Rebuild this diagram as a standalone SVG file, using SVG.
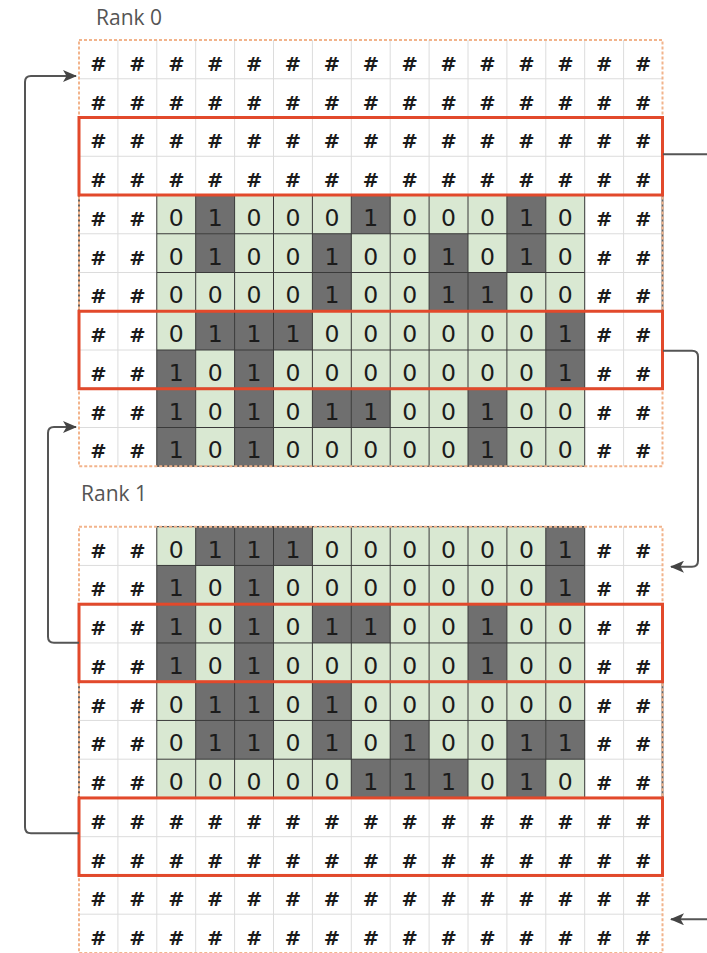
<svg xmlns="http://www.w3.org/2000/svg" xmlns:xlink="http://www.w3.org/1999/xlink" width="707" height="953" viewBox="0 0 707 953">
<style>
text{text-anchor:middle;fill:#1b1b1b}
.hr text{font-family:'DejaVu Sans',sans-serif;font-weight:bold;font-size:19.5px}
.hr text.n{font-family:'DejaVu Sans',sans-serif;font-weight:normal;font-size:23.5px}
.lbl{text-anchor:start;font-family:'Open Sans',sans-serif;font-size:21px;fill:#555}
.bg{fill:#fff}
.g{fill:#d9e8d2}
.d{fill:#6f6f6f}
.lgr{fill:none;stroke:#dcdcdc;stroke-width:1}
.dgr{fill:none;stroke:#3a3a3a;stroke-width:1}
.own{fill:none;stroke:#666;stroke-width:2}
.halo{fill:none;stroke:#f2b48c;stroke-width:2;stroke-dasharray:3 2}
.red{fill:none;stroke:#e2492b;stroke-width:3}
.conn path{fill:none;stroke:#555;stroke-width:2;marker-end:url(#arr)}
</style>
<defs>
<marker id="arr" viewBox="0 0 14 12" refX="13" refY="6" markerWidth="14" markerHeight="12" markerUnits="userSpaceOnUse" orient="auto">
<path d="M0,0 L14,6 L0,12 L3.5,6 Z" fill="#444"/>
</marker>
<path id="lg" class="lgr" d="M38.9 0V426.25M77.8 0V426.25M116.7 0V426.25M155.6 0V426.25M194.5 0V426.25M233.4 0V426.25M272.3 0V426.25M311.2 0V426.25M350.1 0V426.25M389 0V426.25M427.9 0V426.25M466.8 0V426.25M505.7 0V426.25M544.6 0V426.25M0 38.75H583.5M0 77.5H583.5M0 116.25H583.5M0 155H583.5M0 193.75H583.5M0 232.5H583.5M0 271.25H583.5M0 310H583.5M0 348.75H583.5M0 387.5H583.5"/>
<path id="dg" class="dgr" d="M0 0V271.25M38.9 0V271.25M77.8 0V271.25M116.7 0V271.25M155.6 0V271.25M194.5 0V271.25M233.4 0V271.25M272.3 0V271.25M311.2 0V271.25M350.1 0V271.25M389 0V271.25M427.9 0V271.25M0 0H427.9M0 38.75H427.9M0 77.5H427.9M0 116.25H427.9M0 155H427.9M0 193.75H427.9M0 232.5H427.9M0 271.25H427.9"/>
<rect id="dc" class="d" width="38.9" height="38.75"/>
</defs>

<g id="label-rank0"><text class="lbl" x="96" y="25">Rank 0</text></g>
<g id="label-rank1"><text class="lbl" x="81" y="501">Rank 1</text></g>

<g id="rank0" transform="translate(79,40)">
<rect class="bg" width="583.5" height="426.25"/>
<use href="#lg"/>
<rect class="g" x="77.8" y="155" width="427.9" height="271.25"/>
<use href="#dc" x="116.7" y="155"/><use href="#dc" x="272.3" y="155"/><use href="#dc" x="427.9" y="155"/>
<use href="#dc" x="116.7" y="193.75"/><use href="#dc" x="233.4" y="193.75"/><use href="#dc" x="350.1" y="193.75"/><use href="#dc" x="427.9" y="193.75"/>
<use href="#dc" x="233.4" y="232.5"/><use href="#dc" x="350.1" y="232.5"/><use href="#dc" x="389" y="232.5"/>
<use href="#dc" x="116.7" y="271.25"/><use href="#dc" x="155.6" y="271.25"/><use href="#dc" x="194.5" y="271.25"/><use href="#dc" x="466.8" y="271.25"/>
<use href="#dc" x="77.8" y="310"/><use href="#dc" x="155.6" y="310"/><use href="#dc" x="466.8" y="310"/>
<use href="#dc" x="77.8" y="348.75"/><use href="#dc" x="155.6" y="348.75"/><use href="#dc" x="233.4" y="348.75"/><use href="#dc" x="272.3" y="348.75"/><use href="#dc" x="389" y="348.75"/>
<use href="#dc" x="77.8" y="387.5"/><use href="#dc" x="155.6" y="387.5"/><use href="#dc" x="389" y="387.5"/>
<use href="#dg" x="77.8" y="155"/>
<g transform="translate(0,1.5)">
<g class="hr" transform="translate(0,29.4)"><text x="19.5">#</text><text x="58.4">#</text><text x="97.3">#</text><text x="136.2">#</text><text x="175.1">#</text><text x="214">#</text><text x="252.9">#</text><text x="291.8">#</text><text x="330.7">#</text><text x="369.6">#</text><text x="408.5">#</text><text x="447.4">#</text><text x="486.3">#</text><text x="525.2">#</text><text x="564.1">#</text></g>
<g class="hr" transform="translate(0,68.1)"><text x="19.5">#</text><text x="58.4">#</text><text x="97.3">#</text><text x="136.2">#</text><text x="175.1">#</text><text x="214">#</text><text x="252.9">#</text><text x="291.8">#</text><text x="330.7">#</text><text x="369.6">#</text><text x="408.5">#</text><text x="447.4">#</text><text x="486.3">#</text><text x="525.2">#</text><text x="564.1">#</text></g>
<g class="hr" transform="translate(0,106.9)"><text x="19.5">#</text><text x="58.4">#</text><text x="97.3">#</text><text x="136.2">#</text><text x="175.1">#</text><text x="214">#</text><text x="252.9">#</text><text x="291.8">#</text><text x="330.7">#</text><text x="369.6">#</text><text x="408.5">#</text><text x="447.4">#</text><text x="486.3">#</text><text x="525.2">#</text><text x="564.1">#</text></g>
<g class="hr" transform="translate(0,145.6)"><text x="19.5">#</text><text x="58.4">#</text><text x="97.3">#</text><text x="136.2">#</text><text x="175.1">#</text><text x="214">#</text><text x="252.9">#</text><text x="291.8">#</text><text x="330.7">#</text><text x="369.6">#</text><text x="408.5">#</text><text x="447.4">#</text><text x="486.3">#</text><text x="525.2">#</text><text x="564.1">#</text></g>
<g class="hr" transform="translate(0,184.4)"><text x="19.5">#</text><text x="58.4">#</text><text class="n" x="97.3">0</text><text class="n" x="136.2">1</text><text class="n" x="175.1">0</text><text class="n" x="214">0</text><text class="n" x="252.9">0</text><text class="n" x="291.8">1</text><text class="n" x="330.7">0</text><text class="n" x="369.6">0</text><text class="n" x="408.5">0</text><text class="n" x="447.4">1</text><text class="n" x="486.3">0</text><text x="525.2">#</text><text x="564.1">#</text></g>
<g class="hr" transform="translate(0,223.1)"><text x="19.5">#</text><text x="58.4">#</text><text class="n" x="97.3">0</text><text class="n" x="136.2">1</text><text class="n" x="175.1">0</text><text class="n" x="214">0</text><text class="n" x="252.9">1</text><text class="n" x="291.8">0</text><text class="n" x="330.7">0</text><text class="n" x="369.6">1</text><text class="n" x="408.5">0</text><text class="n" x="447.4">1</text><text class="n" x="486.3">0</text><text x="525.2">#</text><text x="564.1">#</text></g>
<g class="hr" transform="translate(0,261.9)"><text x="19.5">#</text><text x="58.4">#</text><text class="n" x="97.3">0</text><text class="n" x="136.2">0</text><text class="n" x="175.1">0</text><text class="n" x="214">0</text><text class="n" x="252.9">1</text><text class="n" x="291.8">0</text><text class="n" x="330.7">0</text><text class="n" x="369.6">1</text><text class="n" x="408.5">1</text><text class="n" x="447.4">0</text><text class="n" x="486.3">0</text><text x="525.2">#</text><text x="564.1">#</text></g>
<g class="hr" transform="translate(0,300.6)"><text x="19.5">#</text><text x="58.4">#</text><text class="n" x="97.3">0</text><text class="n" x="136.2">1</text><text class="n" x="175.1">1</text><text class="n" x="214">1</text><text class="n" x="252.9">0</text><text class="n" x="291.8">0</text><text class="n" x="330.7">0</text><text class="n" x="369.6">0</text><text class="n" x="408.5">0</text><text class="n" x="447.4">0</text><text class="n" x="486.3">1</text><text x="525.2">#</text><text x="564.1">#</text></g>
<g class="hr" transform="translate(0,339.4)"><text x="19.5">#</text><text x="58.4">#</text><text class="n" x="97.3">1</text><text class="n" x="136.2">0</text><text class="n" x="175.1">1</text><text class="n" x="214">0</text><text class="n" x="252.9">0</text><text class="n" x="291.8">0</text><text class="n" x="330.7">0</text><text class="n" x="369.6">0</text><text class="n" x="408.5">0</text><text class="n" x="447.4">0</text><text class="n" x="486.3">1</text><text x="525.2">#</text><text x="564.1">#</text></g>
<g class="hr" transform="translate(0,378.1)"><text x="19.5">#</text><text x="58.4">#</text><text class="n" x="97.3">1</text><text class="n" x="136.2">0</text><text class="n" x="175.1">1</text><text class="n" x="214">0</text><text class="n" x="252.9">1</text><text class="n" x="291.8">1</text><text class="n" x="330.7">0</text><text class="n" x="369.6">0</text><text class="n" x="408.5">1</text><text class="n" x="447.4">0</text><text class="n" x="486.3">0</text><text x="525.2">#</text><text x="564.1">#</text></g>
<g class="hr" transform="translate(0,416.9)"><text x="19.5">#</text><text x="58.4">#</text><text class="n" x="97.3">1</text><text class="n" x="136.2">0</text><text class="n" x="175.1">1</text><text class="n" x="214">0</text><text class="n" x="252.9">0</text><text class="n" x="291.8">0</text><text class="n" x="330.7">0</text><text class="n" x="369.6">0</text><text class="n" x="408.5">1</text><text class="n" x="447.4">0</text><text class="n" x="486.3">0</text><text x="525.2">#</text><text x="564.1">#</text></g>
</g>
<rect class="own" y="77.5" width="583.5" height="271.25"/>
<rect class="halo" width="583.5" height="426.25"/>
<rect id="rank0-send-top" class="red" y="77.5" width="583.5" height="77.5"/>
<rect id="rank0-send-bottom" class="red" y="271.25" width="583.5" height="77.5"/>
</g>

<g id="rank1" transform="translate(79,526.7)">
<rect class="bg" width="583.5" height="426.25"/>
<use href="#lg"/>
<rect class="g" x="77.8" y="0" width="427.9" height="271.25"/>
<use href="#dc" x="116.7" y="0"/><use href="#dc" x="155.6" y="0"/><use href="#dc" x="194.5" y="0"/><use href="#dc" x="466.8" y="0"/>
<use href="#dc" x="77.8" y="38.75"/><use href="#dc" x="155.6" y="38.75"/><use href="#dc" x="466.8" y="38.75"/>
<use href="#dc" x="77.8" y="77.5"/><use href="#dc" x="155.6" y="77.5"/><use href="#dc" x="233.4" y="77.5"/><use href="#dc" x="272.3" y="77.5"/><use href="#dc" x="389" y="77.5"/>
<use href="#dc" x="77.8" y="116.25"/><use href="#dc" x="155.6" y="116.25"/><use href="#dc" x="389" y="116.25"/>
<use href="#dc" x="116.7" y="155"/><use href="#dc" x="155.6" y="155"/><use href="#dc" x="233.4" y="155"/>
<use href="#dc" x="116.7" y="193.75"/><use href="#dc" x="155.6" y="193.75"/><use href="#dc" x="233.4" y="193.75"/><use href="#dc" x="311.2" y="193.75"/><use href="#dc" x="427.9" y="193.75"/><use href="#dc" x="466.8" y="193.75"/>
<use href="#dc" x="272.3" y="232.5"/><use href="#dc" x="311.2" y="232.5"/><use href="#dc" x="350.1" y="232.5"/><use href="#dc" x="427.9" y="232.5"/>
<use href="#dg" x="77.8" y="0"/>
<g transform="translate(0,1.5)">
<g class="hr" transform="translate(0,29.4)"><text x="19.5">#</text><text x="58.4">#</text><text class="n" x="97.3">0</text><text class="n" x="136.2">1</text><text class="n" x="175.1">1</text><text class="n" x="214">1</text><text class="n" x="252.9">0</text><text class="n" x="291.8">0</text><text class="n" x="330.7">0</text><text class="n" x="369.6">0</text><text class="n" x="408.5">0</text><text class="n" x="447.4">0</text><text class="n" x="486.3">1</text><text x="525.2">#</text><text x="564.1">#</text></g>
<g class="hr" transform="translate(0,68.1)"><text x="19.5">#</text><text x="58.4">#</text><text class="n" x="97.3">1</text><text class="n" x="136.2">0</text><text class="n" x="175.1">1</text><text class="n" x="214">0</text><text class="n" x="252.9">0</text><text class="n" x="291.8">0</text><text class="n" x="330.7">0</text><text class="n" x="369.6">0</text><text class="n" x="408.5">0</text><text class="n" x="447.4">0</text><text class="n" x="486.3">1</text><text x="525.2">#</text><text x="564.1">#</text></g>
<g class="hr" transform="translate(0,106.9)"><text x="19.5">#</text><text x="58.4">#</text><text class="n" x="97.3">1</text><text class="n" x="136.2">0</text><text class="n" x="175.1">1</text><text class="n" x="214">0</text><text class="n" x="252.9">1</text><text class="n" x="291.8">1</text><text class="n" x="330.7">0</text><text class="n" x="369.6">0</text><text class="n" x="408.5">1</text><text class="n" x="447.4">0</text><text class="n" x="486.3">0</text><text x="525.2">#</text><text x="564.1">#</text></g>
<g class="hr" transform="translate(0,145.6)"><text x="19.5">#</text><text x="58.4">#</text><text class="n" x="97.3">1</text><text class="n" x="136.2">0</text><text class="n" x="175.1">1</text><text class="n" x="214">0</text><text class="n" x="252.9">0</text><text class="n" x="291.8">0</text><text class="n" x="330.7">0</text><text class="n" x="369.6">0</text><text class="n" x="408.5">1</text><text class="n" x="447.4">0</text><text class="n" x="486.3">0</text><text x="525.2">#</text><text x="564.1">#</text></g>
<g class="hr" transform="translate(0,184.4)"><text x="19.5">#</text><text x="58.4">#</text><text class="n" x="97.3">0</text><text class="n" x="136.2">1</text><text class="n" x="175.1">1</text><text class="n" x="214">0</text><text class="n" x="252.9">1</text><text class="n" x="291.8">0</text><text class="n" x="330.7">0</text><text class="n" x="369.6">0</text><text class="n" x="408.5">0</text><text class="n" x="447.4">0</text><text class="n" x="486.3">0</text><text x="525.2">#</text><text x="564.1">#</text></g>
<g class="hr" transform="translate(0,223.1)"><text x="19.5">#</text><text x="58.4">#</text><text class="n" x="97.3">0</text><text class="n" x="136.2">1</text><text class="n" x="175.1">1</text><text class="n" x="214">0</text><text class="n" x="252.9">1</text><text class="n" x="291.8">0</text><text class="n" x="330.7">1</text><text class="n" x="369.6">0</text><text class="n" x="408.5">0</text><text class="n" x="447.4">1</text><text class="n" x="486.3">1</text><text x="525.2">#</text><text x="564.1">#</text></g>
<g class="hr" transform="translate(0,261.9)"><text x="19.5">#</text><text x="58.4">#</text><text class="n" x="97.3">0</text><text class="n" x="136.2">0</text><text class="n" x="175.1">0</text><text class="n" x="214">0</text><text class="n" x="252.9">0</text><text class="n" x="291.8">1</text><text class="n" x="330.7">1</text><text class="n" x="369.6">1</text><text class="n" x="408.5">0</text><text class="n" x="447.4">1</text><text class="n" x="486.3">0</text><text x="525.2">#</text><text x="564.1">#</text></g>
<g class="hr" transform="translate(0,300.6)"><text x="19.5">#</text><text x="58.4">#</text><text x="97.3">#</text><text x="136.2">#</text><text x="175.1">#</text><text x="214">#</text><text x="252.9">#</text><text x="291.8">#</text><text x="330.7">#</text><text x="369.6">#</text><text x="408.5">#</text><text x="447.4">#</text><text x="486.3">#</text><text x="525.2">#</text><text x="564.1">#</text></g>
<g class="hr" transform="translate(0,339.4)"><text x="19.5">#</text><text x="58.4">#</text><text x="97.3">#</text><text x="136.2">#</text><text x="175.1">#</text><text x="214">#</text><text x="252.9">#</text><text x="291.8">#</text><text x="330.7">#</text><text x="369.6">#</text><text x="408.5">#</text><text x="447.4">#</text><text x="486.3">#</text><text x="525.2">#</text><text x="564.1">#</text></g>
<g class="hr" transform="translate(0,378.1)"><text x="19.5">#</text><text x="58.4">#</text><text x="97.3">#</text><text x="136.2">#</text><text x="175.1">#</text><text x="214">#</text><text x="252.9">#</text><text x="291.8">#</text><text x="330.7">#</text><text x="369.6">#</text><text x="408.5">#</text><text x="447.4">#</text><text x="486.3">#</text><text x="525.2">#</text><text x="564.1">#</text></g>
<g class="hr" transform="translate(0,416.9)"><text x="19.5">#</text><text x="58.4">#</text><text x="97.3">#</text><text x="136.2">#</text><text x="175.1">#</text><text x="214">#</text><text x="252.9">#</text><text x="291.8">#</text><text x="330.7">#</text><text x="369.6">#</text><text x="408.5">#</text><text x="447.4">#</text><text x="486.3">#</text><text x="525.2">#</text><text x="564.1">#</text></g>
</g>
<rect class="own" y="77.5" width="583.5" height="271.25"/>
<rect class="halo" width="583.5" height="426.25"/>
<rect id="rank1-send-top" class="red" y="77.5" width="583.5" height="77.5"/>
<rect id="rank1-send-bottom" class="red" y="271.25" width="583.5" height="77.5"/>
</g>

<g id="connectors" class="conn">
<path d="M79,833.3 H31 Q25,833.3 25,827.3 V82 Q25,76 31,76 H76"/>
<path d="M79,642.7 H54 Q48,642.7 48,636.7 V433 Q48,427 54,427 H76"/>
<path d="M663,350.7 H692 Q698,350.7 698,356.7 V560.7 Q698,566.7 692,566.7 H671"/>
<path d="M663,154.3 H740 V919.3 H671"/>
</g>
</svg>
